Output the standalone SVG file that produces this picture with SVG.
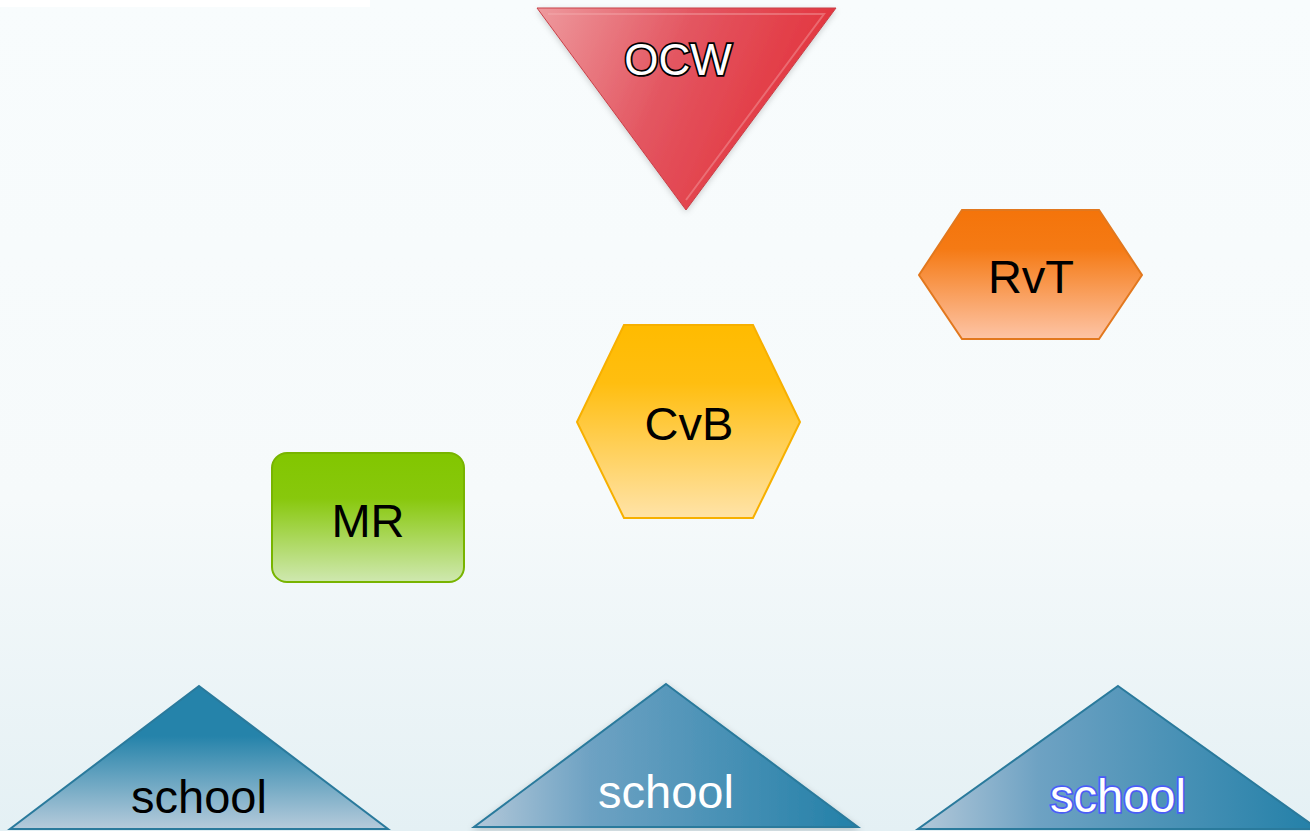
<svg xmlns="http://www.w3.org/2000/svg" width="1310" height="831" viewBox="0 0 1310 831">
<defs>
<linearGradient id="bg" x1="0" y1="0" x2="0" y2="1">
<stop offset="0" stop-color="#f8fcfd"/>
<stop offset="0.6" stop-color="#f6fafb"/>
<stop offset="1" stop-color="#e4f0f4"/>
</linearGradient>
<linearGradient id="red" x1="0" y1="0" x2="1" y2="0.3">
<stop offset="0" stop-color="#ee9a9e"/>
<stop offset="0.5" stop-color="#e35560"/>
<stop offset="1" stop-color="#e3323b"/>
</linearGradient>
<linearGradient id="org" x1="0" y1="0" x2="0" y2="1">
<stop offset="0" stop-color="#f4740a"/>
<stop offset="0.3" stop-color="#f57a14"/>
<stop offset="1" stop-color="#fdc4a6"/>
</linearGradient>
<linearGradient id="yel" x1="0" y1="0" x2="0" y2="1">
<stop offset="0" stop-color="#ffbb00"/>
<stop offset="0.3" stop-color="#ffbe10"/>
<stop offset="1" stop-color="#ffe3a8"/>
</linearGradient>
<linearGradient id="grn" x1="0" y1="0" x2="0" y2="1">
<stop offset="0" stop-color="#82c600"/>
<stop offset="0.35" stop-color="#88c80c"/>
<stop offset="1" stop-color="#cfe8b0"/>
</linearGradient>
<linearGradient id="blueV" x1="0" y1="0" x2="0" y2="1">
<stop offset="0" stop-color="#2583aa"/>
<stop offset="0.35" stop-color="#2583aa"/>
<stop offset="1" stop-color="#b6cbdb"/>
</linearGradient>
<linearGradient id="blueH" x1="0" y1="0" x2="1" y2="0">
<stop offset="0" stop-color="#b3c8d9"/>
<stop offset="0.3" stop-color="#6ea2c3"/>
<stop offset="1" stop-color="#2380a8"/>
</linearGradient>
<filter id="sh" x="-10%" y="-10%" width="120%" height="130%">
<feDropShadow dx="0" dy="2" stdDeviation="3" flood-color="#000" flood-opacity="0.2"/>
</filter>
</defs>
<style>
.t{font-family:"Liberation Sans",Arial,sans-serif;font-size:47px;text-anchor:middle;fill:#000}
.sch{stroke:#2a7a9c;stroke-width:2}
</style>
<rect width="1310" height="831" fill="url(#bg)"/>
<rect x="0" y="0" width="370" height="7" fill="#ffffff"/>

<g id="connectors"></g>

<g id="ocw">
<polygon points="537,8 836,8 686,210" fill="url(#red)" filter="url(#sh)"/>
<polygon points="537,8 836,8 686,210" fill="none" stroke="#c94048" stroke-width="1"/>
<polyline points="548,14 824,14 686,200" fill="none" stroke="#f5aeb2" stroke-opacity="0.4" stroke-width="2"/>
<text class="t" x="678" y="75" style="font-size:44px;fill:#fff;stroke:#000;stroke-width:3.5;paint-order:stroke">OCW</text>
</g>

<g id="rvt">
<polygon points="919,275 962,210 1099,210 1142,275 1099,339 962,339" fill="url(#org)" stroke="#e2781e" stroke-width="2"/>
<text class="t" x="1031" y="293">RvT</text>
</g>

<g id="cvb">
<polygon points="577,422 624,325 753,325 800,422 753,518 624,518" fill="url(#yel)" stroke="#f7b000" stroke-width="2"/>
<text class="t" x="689" y="440">CvB</text>
</g>

<g id="mr">
<rect x="272" y="453" width="192" height="129" rx="15" fill="url(#grn)" stroke="#78b400" stroke-width="2"/>
<text class="t" x="368" y="537">MR</text>
</g>

<g id="school1">
<polygon class="sch" points="199,686 388,829 10,829" fill="url(#blueV)"/>
<text class="t" x="199" y="813">school</text>
</g>

<g id="school2">
<polygon class="sch" points="666,684 858,827 474,827" fill="url(#blueH)" filter="url(#sh)"/>
<text class="t" x="666" y="808" style="fill:#fff">school</text>
</g>

<g id="school3">
<polygon class="sch" points="1118,686 1318,829 918,829" fill="url(#blueH)"/>
<text class="t" x="1118" y="812" style="fill:#fff;stroke:#4a5cf7;stroke-width:3.5;paint-order:stroke">school</text>
</g>
</svg>
